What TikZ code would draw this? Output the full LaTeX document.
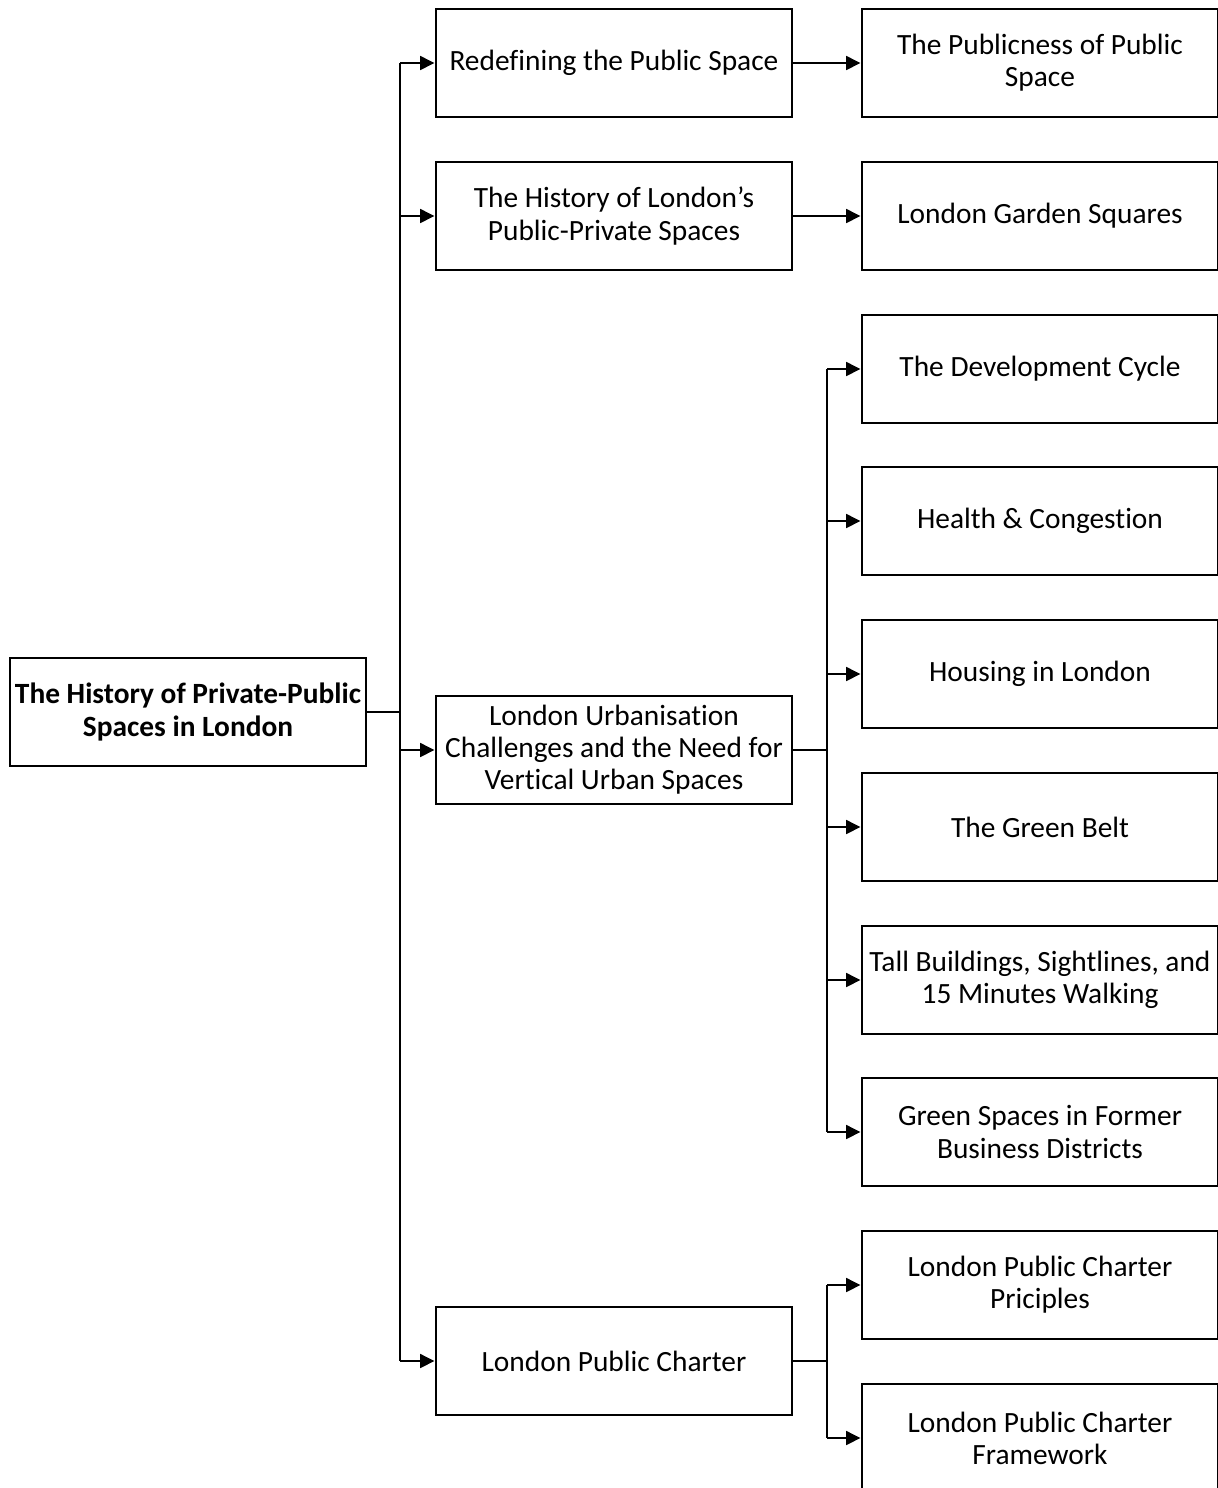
\documentclass[tikz,border=0pt]{standalone}
\usepackage{fontspec}
\setmainfont{Carlito}[Ligatures={NoCommon}]
\usetikzlibrary{arrows.meta, positioning, calc}

\begin{document}
\begin{tikzpicture}[x=0.025cm, y=-0.025cm, line width=2pt,
  box/.style={draw=black, line width=2pt, minimum width=8.9cm, minimum height=2.7cm,
    align=center, inner sep=1pt, font=\fontsize{20.9}{22.8}\selectfont},
  rootbox/.style={box, font=\fontsize{20.9}{22.8}\selectfont\bfseries},
  link/.style={draw=black, line width=2pt},
  arr/.style={link, -{Triangle[length=0.36cm, width=0.34cm]}}]

\useasboundingbox (0,0) rectangle (1218,1488);

% Root
\node[rootbox] (root) at (188,712) {The History of Private-Public\\Spaces in London};

% First level
\node[box] (redef) at (614,63) {Redefining the Public Space};
\node[box] (hist) at (614,216) {The History of London's\\Public-Private Spaces};
\node[box] (urban) at (614,750) {London Urbanisation\\Challenges and the Need for\\Vertical Urban Spaces};
\node[box] (charter) at (614,1361) {London Public Charter};

% Second level
\node[box] (publ) at (1040,63) {The Publicness of Public\\Space};
\node[box] (garden) at (1040,216) {London Garden Squares};
\node[box] (devcyc) at (1040,369) {The Development Cycle};
\node[box] (health) at (1040,521) {Health \& Congestion};
\node[box] (housing) at (1040,674) {Housing in London};
\node[box] (belt) at (1040,827) {The Green Belt};
\node[box] (tall) at (1040,980) {Tall Buildings, Sightlines, and\\15 Minutes Walking};
\node[box] (greensp) at (1040,1132) {Green Spaces in Former\\Business Districts};
\node[box] (princ) at (1040,1285) {London Public Charter\\Priciples};
\node[box] (frame) at (1040,1438) {London Public Charter\\Framework};

% Trunks
\coordinate (trunk) at (400,0);
\coordinate (utrunk) at (827,0);

% Root to first level
\draw[link] (root.east) -- (trunk |- root.east);
\draw[link] (trunk |- redef.west) -- (trunk |- charter.west);
\foreach \n in {redef, hist, urban, charter}
  \draw[arr] (trunk |- \n.west) -- (\n.west);

% Direct links
\draw[arr] (redef.east) -- (publ.west);
\draw[arr] (hist.east) -- (garden.west);

% Urbanisation branch
\draw[link] (urban.east) -- (utrunk |- urban.east);
\draw[link] (utrunk |- devcyc.west) -- (utrunk |- greensp.west);
\foreach \n in {devcyc, health, housing, belt, tall, greensp}
  \draw[arr] (utrunk |- \n.west) -- (\n.west);

% Charter branch
\draw[link] (charter.east) -- (utrunk |- charter.east);
\draw[link] (utrunk |- princ.west) -- (utrunk |- frame.west);
\foreach \n in {princ, frame}
  \draw[arr] (utrunk |- \n.west) -- (\n.west);

\end{tikzpicture}
\end{document}
